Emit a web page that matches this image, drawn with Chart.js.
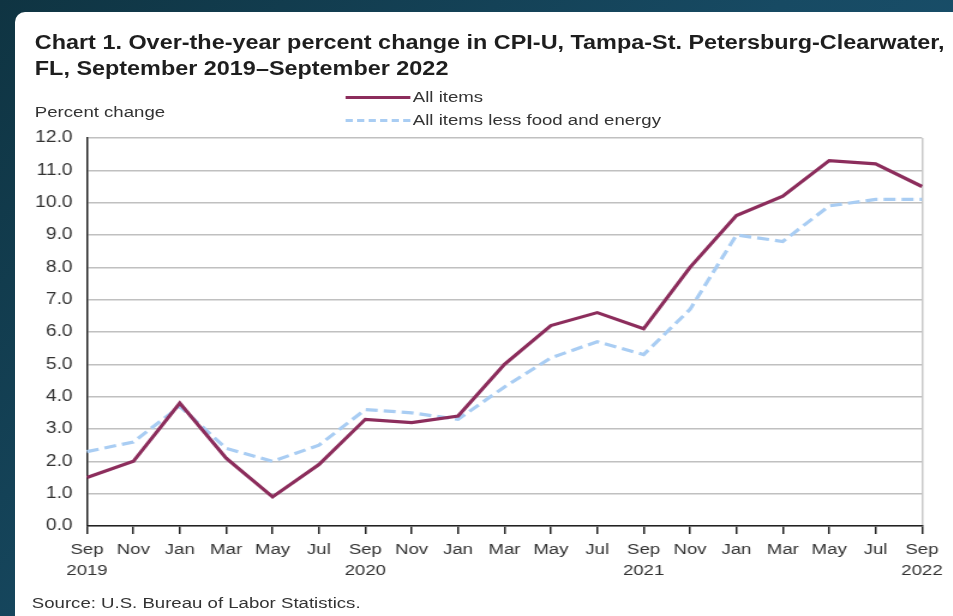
<!DOCTYPE html>
<html>
<head>
<meta charset="utf-8">
<script src="https://cdn.jsdelivr.net/npm/chart.js@4.4.0/dist/chart.umd.min.js"></script>
<style>
  html, body { margin: 0; padding: 0; }
  body {
    width: 953px; height: 616px; overflow: hidden; position: relative;
    background: linear-gradient(135deg, #0f3442 0%, #174a63 50%, #1c5676 100%);
    font-family: "Liberation Sans", Arial, sans-serif;
  }
  #card {
    position: absolute; left: 15px; top: 12px; width: 960px; height: 620px;
    background: #fff; border-top-left-radius: 10px;
  }
  /* the original picture is stretched sideways, so draw narrow and widen */
  #wrap {
    position: absolute; left: 0; top: 0; width: 794px; height: 616px;
    transform: scaleX(1.2); transform-origin: 0 0;
  }
  .txt { position: absolute; color: #333; white-space: nowrap; }
  #title { left: 29px; top: 29px; font-size: 19.5px; font-weight: bold; color: #1e1e1e; line-height: 26px; }
  #ylab { left: 29px; top: 103px; font-size: 15.5px; }
  #source { left: 26.5px; top: 594px; font-size: 15.5px; }
  .leg { position: absolute; left: 288px; width: 54px; height: 0; }
  .legtxt { left: 344px; font-size: 15.5px; }
  #cpiChart { position: absolute; left: 0; top: 0; }
</style>
</head>
<body>
<div id="card"></div>
<div id="wrap">
  <div class="txt" id="title">Chart 1. Over-the-year percent change in CPI-U, Tampa-St. Petersburg-Clearwater,<br>FL, September 2019–September 2022</div>
  <div class="txt" id="ylab">Percent change</div>
  <div class="leg" style="top:96px;border-top:3px solid #8c2d5c;"></div>
  <div class="txt legtxt" style="top:88px;">All items</div>
  <div class="leg" style="top:119px;border-top:3px dashed #a9cdf3;"></div>
  <div class="txt legtxt" style="top:111px;">All items less food and energy</div>
  <div class="txt" id="source">Source: U.S. Bureau of Labor Statistics.</div>
  <canvas id="cpiChart" width="794" height="616"></canvas>
</div>

<script>
// bi-monthly, Sep 2019 - Sep 2022
var months = [['Sep', '2019'], 'Nov', 'Jan', 'Mar', 'May', 'Jul', ['Sep', '2020'], 'Nov', 'Jan', 'Mar', 'May', 'Jul',
  ['Sep', '2021'], 'Nov', 'Jan', 'Mar', 'May', 'Jul', ['Sep', '2022']];
var allItems = [1.5, 2.0, 3.8, 2.1, 0.9, 1.9, 3.3, 3.2, 3.4, 5.0, 6.2, 6.6, 6.1, 8.0, 9.6, 10.2, 11.3, 11.2, 10.5];
var coreItems = [2.3, 2.6, 3.7, 2.4, 2.0, 2.5, 3.6, 3.5, 3.3, 4.3, 5.2, 5.7, 5.3, 6.7, 9.0, 8.8, 9.9, 10.1, 10.1];

var fontFamily = '"Liberation Sans", Arial, sans-serif';

var ctx = document.getElementById('cpiChart').getContext('2d');
new Chart(ctx, {
  type: 'line',
  data: {
    labels: months,
    datasets: [{
      label: 'All items',
      data: allItems,
      borderColor: '#8c2d5c',
      borderWidth: 3.2,
      pointRadius: 0,
      tension: 0,
      order: 1
    }, {
      label: 'All items less food and energy',
      data: coreItems,
      borderColor: '#a9cdf3',
      borderWidth: 3.2,
      borderDash: [10, 5],
      pointRadius: 0,
      tension: 0,
      order: 2
    }]
  },
  options: {
    responsive: false,
    animation: false,
    layout: { padding: { left: 0, right: 25.7, top: 138, bottom: 0 } },
    plugins: { legend: { display: false }, tooltip: { enabled: false } },
    scales: {
      x: {
        offset: false,
        afterFit: function (scale) { scale.height = 90; },
        border: { color: '#222', width: 1.5 },
        grid: {
          drawOnChartArea: true,
          color: function (c) { return c.index === months.length - 1 ? '#c8c8c8' : 'rgba(0,0,0,0)'; },
          tickColor: '#222',
          tickLength: 8,
          lineWidth: 1.5
        },
        ticks: {
          autoSkip: false,
          maxRotation: 0,
          color: '#333',
          font: { family: fontFamily, size: 15.5, lineHeight: 1.35 },
          padding: 5
        }
      },
      y: {
        min: 0,
        max: 12,
        afterFit: function (scale) { scale.width = 72.5; },
        border: { color: '#222', width: 1.5 },
        grid: { color: '#c0c0c0', lineWidth: 1.5, drawTicks: false },
        ticks: {
          stepSize: 1,
          color: '#333',
          font: { family: fontFamily, size: 16 },
          padding: 12,
          callback: function (v) { return v.toFixed(1); }
        }
      }
    }
  }
});
</script>
</body>
</html>
